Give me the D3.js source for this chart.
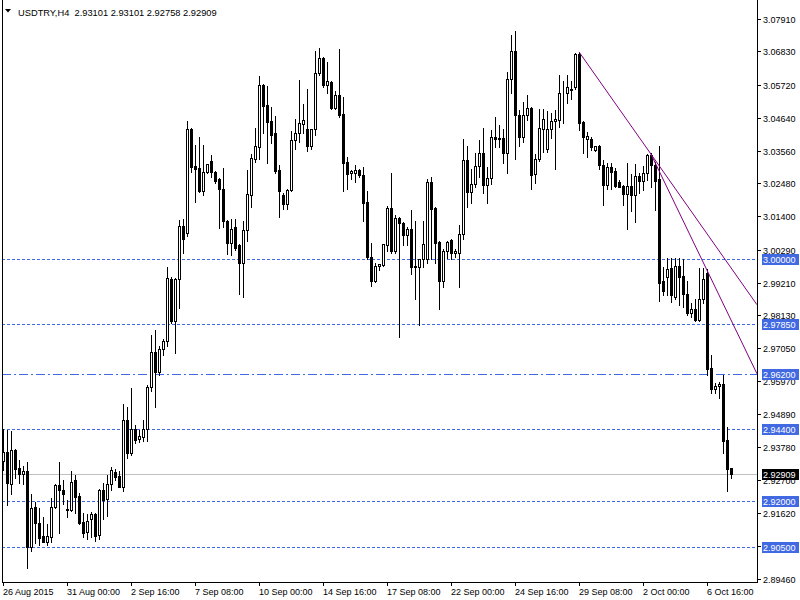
<!DOCTYPE html>
<html><head><meta charset="utf-8">
<script src="https://cdn.jsdelivr.net/npm/d3@7/dist/d3.min.js"></script>
<style>html,body{margin:0;padding:0;background:#fff;}svg{display:block;}</style>
</head><body><svg id="c" width="800" height="600"></svg>
<script>
const symbolTitle = "USDTRY,H4  2.93101 2.93101 2.92758 2.92909";
const opens = [2.9333,2.9363,2.9257,2.9369,2.9310,2.9290,2.9300,2.9050,2.9182,2.9129,2.9086,2.9066,2.9083,2.9182,2.9254,2.9238,2.9175,2.9172,2.9271,2.9218,2.9132,2.9099,2.9142,2.9159,2.9089,2.9238,2.9208,2.9257,2.9297,2.9284,2.9248,2.9468,2.9360,2.9439,2.9406,2.9412,2.9439,2.9577,2.9692,2.9626,2.9702,2.9729,2.9933,2.9794,2.9933,3.0107,3.0084,3.0427,3.0305,3.0299,3.0223,3.0285,3.0322,3.0285,3.0262,3.0229,3.0124,3.0051,3.0104,3.0045,2.9986,3.0094,3.0210,3.0328,3.0368,3.0572,3.0506,3.0453,3.0414,3.0292,3.0210,3.0180,3.0226,3.0391,3.0414,3.0443,3.0427,3.0371,3.0427,3.0611,3.0661,3.0572,3.0582,3.0496,3.0539,3.0476,3.0318,3.0282,3.0282,3.0292,3.0275,3.0187,3.0005,2.9926,2.9976,2.9979,3.0045,3.0167,3.0025,3.0134,3.0117,3.0078,3.0097,2.9972,2.9972,2.9999,2.9999,3.0252,3.0167,3.0055,2.9926,3.0025,3.0061,3.0018,3.0018,3.0081,3.0325,3.0219,3.0246,3.0305,3.0348,3.0243,3.0266,3.0401,3.0394,3.0397,3.0348,3.0592,3.0684,3.0473,3.0401,3.0473,3.0496,3.0279,3.0328,3.0427,3.0361,3.0427,3.0453,3.0457,3.0544,3.0546,3.0559,3.0565,3.0674,3.0450,3.0394,3.0394,3.0358,3.0371,3.0308,3.0243,3.0302,3.0289,3.0252,3.0239,3.0213,3.0239,3.0210,3.0272,3.0256,3.0282,3.0341,3.0308,3.0262,2.9926,2.9939,2.9969,2.9874,2.9976,2.9943,2.9883,2.9821,2.9834,2.9798,2.9867,2.9953,2.9640,2.9570,2.9580,2.9587,2.9402,2.93101];
const highs = [2.9439,2.9435,2.9432,2.9372,2.9336,2.9317,2.9330,2.9224,2.9198,2.9178,2.9149,2.9126,2.9211,2.9257,2.9330,2.9271,2.9205,2.9300,2.9287,2.9228,2.9162,2.9159,2.9165,2.9162,2.9241,2.9261,2.9287,2.9313,2.9307,2.9300,2.9521,2.9511,2.9574,2.9452,2.9435,2.9468,2.9583,2.9748,2.9765,2.9712,2.9735,2.9972,2.9939,2.9936,3.0127,3.0130,3.0453,3.0430,3.0374,3.0401,3.0374,3.0312,3.0341,3.0288,3.0265,3.0298,3.0127,3.0130,3.0130,3.0048,3.0124,3.0292,3.0345,3.0430,3.0602,3.0575,3.0569,3.0499,3.0470,3.0308,3.0216,3.0229,3.0420,3.0460,3.0588,3.0509,3.0559,3.0427,3.0684,3.0694,3.0664,3.0648,3.0585,3.0552,3.0691,3.0532,3.0335,3.0292,3.0308,3.0295,3.0302,3.0223,3.0051,2.9986,2.9982,3.0048,3.0173,3.0282,3.0144,3.0137,3.0120,3.0104,3.0160,3.0124,2.9999,3.0124,3.0262,3.0269,3.0170,3.0058,3.0032,3.0058,3.0064,3.0032,3.0111,3.0394,3.0371,3.0295,3.0348,3.0391,3.0430,3.0302,3.0424,3.0467,3.0440,3.0427,3.0615,3.0737,3.0750,3.0490,3.0516,3.0539,3.0499,3.0345,3.0493,3.0493,3.0486,3.0480,3.0490,3.0605,3.0585,3.0605,3.0585,3.0677,3.0681,3.0453,3.0417,3.0401,3.0371,3.0374,3.0325,3.0315,3.0315,3.0298,3.0259,3.0242,3.0315,3.0279,3.0312,3.0282,3.0305,3.0344,3.0348,3.0318,3.0371,2.9972,3.0002,3.0002,3.0002,3.0002,2.9999,2.9926,2.9854,2.9867,2.9969,2.9969,2.9966,2.9682,2.9590,2.9593,2.9617,2.9445,2.93101];
const lows = [2.9304,2.9188,2.9224,2.9277,2.9261,2.9257,2.8981,2.9037,2.9063,2.9056,2.9066,2.9056,2.9066,2.9178,2.9096,2.9192,2.9149,2.9168,2.9162,2.9126,2.9083,2.9076,2.9083,2.9070,2.9076,2.9142,2.9152,2.9238,2.9271,2.9248,2.9234,2.9343,2.9353,2.9393,2.9396,2.9399,2.9399,2.9564,2.9511,2.9617,2.9682,2.9712,2.9788,2.9689,2.9837,3.0018,3.0075,3.0285,3.0187,3.0219,3.0210,3.0282,3.0269,3.0249,3.0101,3.0104,3.0015,3.0012,3.0028,2.9883,2.9873,3.0058,3.0170,3.0318,3.0328,3.0414,3.0315,3.0381,3.0282,3.0137,3.0163,3.0163,3.0223,3.0361,3.0384,3.0414,3.0355,3.0361,3.0407,3.0605,3.0565,3.0546,3.0493,3.0493,3.0467,3.0223,3.0229,3.0262,3.0252,3.0269,3.0124,2.9999,2.9910,2.9923,2.9962,2.9976,3.0025,3.0018,3.0018,2.9742,3.0045,3.0045,2.9949,2.9867,2.9781,2.9972,2.9986,2.9999,2.9986,2.9834,2.9906,3.0002,2.9999,3.0005,2.9906,3.0065,3.0170,3.0183,3.0236,3.0269,3.0216,3.0183,3.0246,3.0368,3.0368,3.0315,3.0282,3.0546,3.0328,3.0371,3.0384,3.0457,3.0229,3.0249,3.0322,3.0351,3.0351,3.0397,3.0295,3.0434,3.0447,3.0513,3.0526,3.0559,3.0424,3.0348,3.0335,3.0358,3.0355,3.0295,3.0177,3.0229,3.0229,3.0236,3.0236,3.0177,3.0098,3.0157,3.0121,3.0216,3.0226,3.0259,3.0236,3.0160,2.9860,2.9880,2.9880,2.9857,2.9867,2.9847,2.9841,2.9814,2.9808,2.9794,2.9794,2.9854,2.9617,2.9557,2.9557,2.9541,2.9360,2.9234,2.92758];
const closes = [2.9363,2.9261,2.9369,2.9307,2.9290,2.9300,2.9050,2.9178,2.9129,2.9080,2.9066,2.9086,2.9182,2.9254,2.9238,2.9224,2.9172,2.9264,2.9215,2.9129,2.9096,2.9136,2.9159,2.9086,2.9238,2.9205,2.9257,2.9304,2.9280,2.9248,2.9468,2.9360,2.9439,2.9402,2.9416,2.9439,2.9577,2.9692,2.9626,2.9702,2.9729,2.9936,2.9794,2.9933,3.0107,3.0065,3.0427,3.0302,3.0295,3.0223,3.0285,3.0312,3.0285,3.0256,3.0229,3.0124,3.0051,3.0097,3.0035,2.9986,3.0094,3.0213,3.0331,3.0371,3.0572,3.0503,3.0450,3.0407,3.0289,3.0223,3.0180,3.0226,3.0391,3.0414,3.0447,3.0457,3.0371,3.0427,3.0611,3.0661,3.0572,3.0585,3.0496,3.0539,3.0473,3.0315,3.0279,3.0289,3.0292,3.0275,3.0183,3.0005,2.9926,2.9976,2.9982,3.0048,3.0167,3.0025,3.0134,3.0117,3.0078,3.0097,2.9972,2.9976,2.9999,3.0048,3.0252,3.0163,3.0051,2.9926,3.0025,3.0055,3.0018,3.0025,3.0081,3.0325,3.0219,3.0246,3.0305,3.0348,3.0243,3.0266,3.0401,3.0394,3.0397,3.0348,3.0592,3.0684,3.0473,3.0401,3.0473,3.0496,3.0275,3.0328,3.0430,3.0460,3.0427,3.0453,3.0460,3.0546,3.0546,3.0565,3.0555,3.0674,3.0447,3.0401,3.0404,3.0368,3.0371,3.0308,3.0243,3.0302,3.0285,3.0239,3.0236,3.0213,3.0239,3.0210,3.0272,3.0256,3.0282,3.0341,3.0308,3.0256,2.9920,2.9893,2.9966,2.9880,2.9976,2.9939,2.9883,2.9821,2.9834,2.9798,2.9867,2.9933,2.9636,2.9570,2.9580,2.9587,2.9399,2.9307,2.92909];

const yTicks = [3.0791,3.0683,3.0572,3.0464,3.0356,3.0248,3.0140,3.0029,2.9921,2.9813,2.9705,2.9597,2.9489,2.9378,2.9270,2.9162,2.9054,2.8946];
const xTickIndex = [0,16,32,48,64,80,96,112,128,144,160,176];
const xTickLabels = ["26 Aug 2015","31 Aug 00:00","2 Sep 16:00","7 Sep 08:00","10 Sep 00:00","14 Sep 16:00","17 Sep 08:00","22 Sep 00:00","24 Sep 16:00","29 Sep 08:00","2 Oct 00:00","6 Oct 16:00"];
const levels = [3.0000,2.9785,2.9620,2.9440,2.9200,2.9050];
const levelStyles = ["dash","dash","dashdot","dash","dash","dash"];
const bidPrice = 2.92909;
// trend lines: [startIndex, startPrice, secondIndex, secondPrice]
const trendLines = [[144,3.0681,162,3.0344],[162,3.0344,175,2.9989]];

const W=800,H=600;
const plotLeft=2, plotRight=757, plotTop=0, plotBottom=582;
const font='"Liberation Sans", Arial, sans-serif';
const blue="#4169E1";

const svg=d3.select("#c");
svg.append("rect").attr("width",W).attr("height",H).attr("fill","#fff");

const x=d3.scaleLinear().domain([0,1]).range([3,7]);
const y=d3.scaleLinear().domain([2.8946,3.0791]).range([578.5,18.5]);

svg.append("defs").append("clipPath").attr("id","pc").append("rect")
  .attr("x",plotLeft+1).attr("y",plotTop).attr("width",plotRight-plotLeft-1).attr("height",plotBottom-plotTop);

const g=svg.append("g").attr("clip-path","url(#pc)");

// level lines
levels.forEach((lv,k)=>{
  const yy=Math.round(y(lv))+0.5;
  g.append("line").attr("x1",plotLeft).attr("x2",plotRight).attr("y1",yy).attr("y2",yy)
   .attr("stroke",blue).attr("stroke-width",1)
   .attr("stroke-dasharray",levelStyles[k]==="dash"?"3,2":"9,3,2,3")
   .attr("shape-rendering","crispEdges");
});
// bid line
{
  const yy=Math.round(y(bidPrice))+0.5;
  g.append("line").attr("x1",plotLeft).attr("x2",plotRight).attr("y1",yy).attr("y2",yy)
   .attr("stroke","#C0C0C0").attr("stroke-width",1).attr("shape-rendering","crispEdges");
}

// candles
const data=opens.map((o,i)=>({i,o,h:highs[i],l:lows[i],c:closes[i]}));
const cg=g.append("g").attr("shape-rendering","crispEdges");
data.forEach(d=>{
  const cx=Math.round(x(d.i));
  const yh=Math.round(y(d.h)), yl=Math.round(y(d.l));
  cg.append("line").attr("x1",cx+0.5).attr("x2",cx+0.5).attr("y1",yh).attr("y2",yl+1)
    .attr("stroke","#000").attr("stroke-width",1);
  const top=Math.round(y(Math.max(d.o,d.c))), bot=Math.round(y(Math.min(d.o,d.c)));
  if(d.c>=d.o){
    cg.append("rect").attr("x",cx-0.5).attr("y",top+0.5).attr("width",2).attr("height",Math.max(0,bot-top))
      .attr("fill","#fff").attr("stroke","#000").attr("stroke-width",1);
  } else {
    cg.append("rect").attr("x",cx-1).attr("y",top).attr("width",3).attr("height",Math.max(1,bot-top+1))
      .attr("fill","#000");
  }
});

// trend lines (rays)
trendLines.forEach(t=>{
  const [i1,p1,i2,p2]=t;
  const x1=x(i1),y1=y(p1),x2=x(i2),y2=y(p2);
  const slope=(y2-y1)/(x2-x1);
  const xe=plotRight, ye=y1+slope*(xe-x1);
  g.append("line").attr("x1",x1).attr("y1",y1).attr("x2",xe).attr("y2",ye)
   .attr("stroke","#800080").attr("stroke-width",1);
});

// frame
const fr=svg.append("g").attr("shape-rendering","crispEdges");
fr.append("line").attr("x1",plotLeft+0.5).attr("x2",plotLeft+0.5).attr("y1",0).attr("y2",plotBottom).attr("stroke","#000");
fr.append("line").attr("x1",plotRight+0.5).attr("x2",plotRight+0.5).attr("y1",0).attr("y2",plotBottom+1).attr("stroke","#000");
fr.append("line").attr("x1",plotLeft).attr("x2",plotRight+1).attr("y1",plotBottom+0.5).attr("y2",plotBottom+0.5).attr("stroke","#000");

// y axis ticks/labels
const ya=svg.append("g");
yTicks.forEach(v=>{
  const yy=Math.round(y(v))+0.5;
  ya.append("line").attr("x1",plotRight+1).attr("x2",plotRight+4).attr("y1",yy).attr("y2",yy).attr("stroke","#000").attr("shape-rendering","crispEdges");
  ya.append("text").attr("x",763).attr("y",yy+3).attr("font-family",font).attr("font-size",9).attr("fill","#000").text(d3.format(".5f")(v));
});
// level labels
function priceBox(v,fill){
  const yy=Math.round(y(v));
  ya.append("rect").attr("x",762).attr("y",yy-5).attr("width",37).attr("height",11).attr("fill",fill);
  ya.append("text").attr("x",763).attr("y",yy+3.5).attr("font-family",font).attr("font-size",9).attr("fill","#fff").text(d3.format(".5f")(v));
}
levels.forEach(v=>priceBox(v,blue));
priceBox(bidPrice,"#000");

// x axis
const xa=svg.append("g");
xTickIndex.forEach((idx,k)=>{
  const xx=Math.round(x(idx))+0.5;
  xa.append("line").attr("x1",xx).attr("x2",xx).attr("y1",plotBottom+1).attr("y2",plotBottom+4).attr("stroke","#000").attr("shape-rendering","crispEdges");
  xa.append("text").attr("x",xx-0.5).attr("y",595).attr("font-family",font).attr("font-size",9).attr("fill","#000").text(xTickLabels[k]);
});

// header
svg.append("path").attr("d","M5,9 L11,9 L8,12.5 Z").attr("fill","#000");
svg.append("text").attr("x",18).attr("y",15.5).attr("font-family",font).attr("font-size",9.3).attr("fill","#000")
  .attr("xml:space","preserve").style("white-space","pre").text(symbolTitle);
</script></body></html>
